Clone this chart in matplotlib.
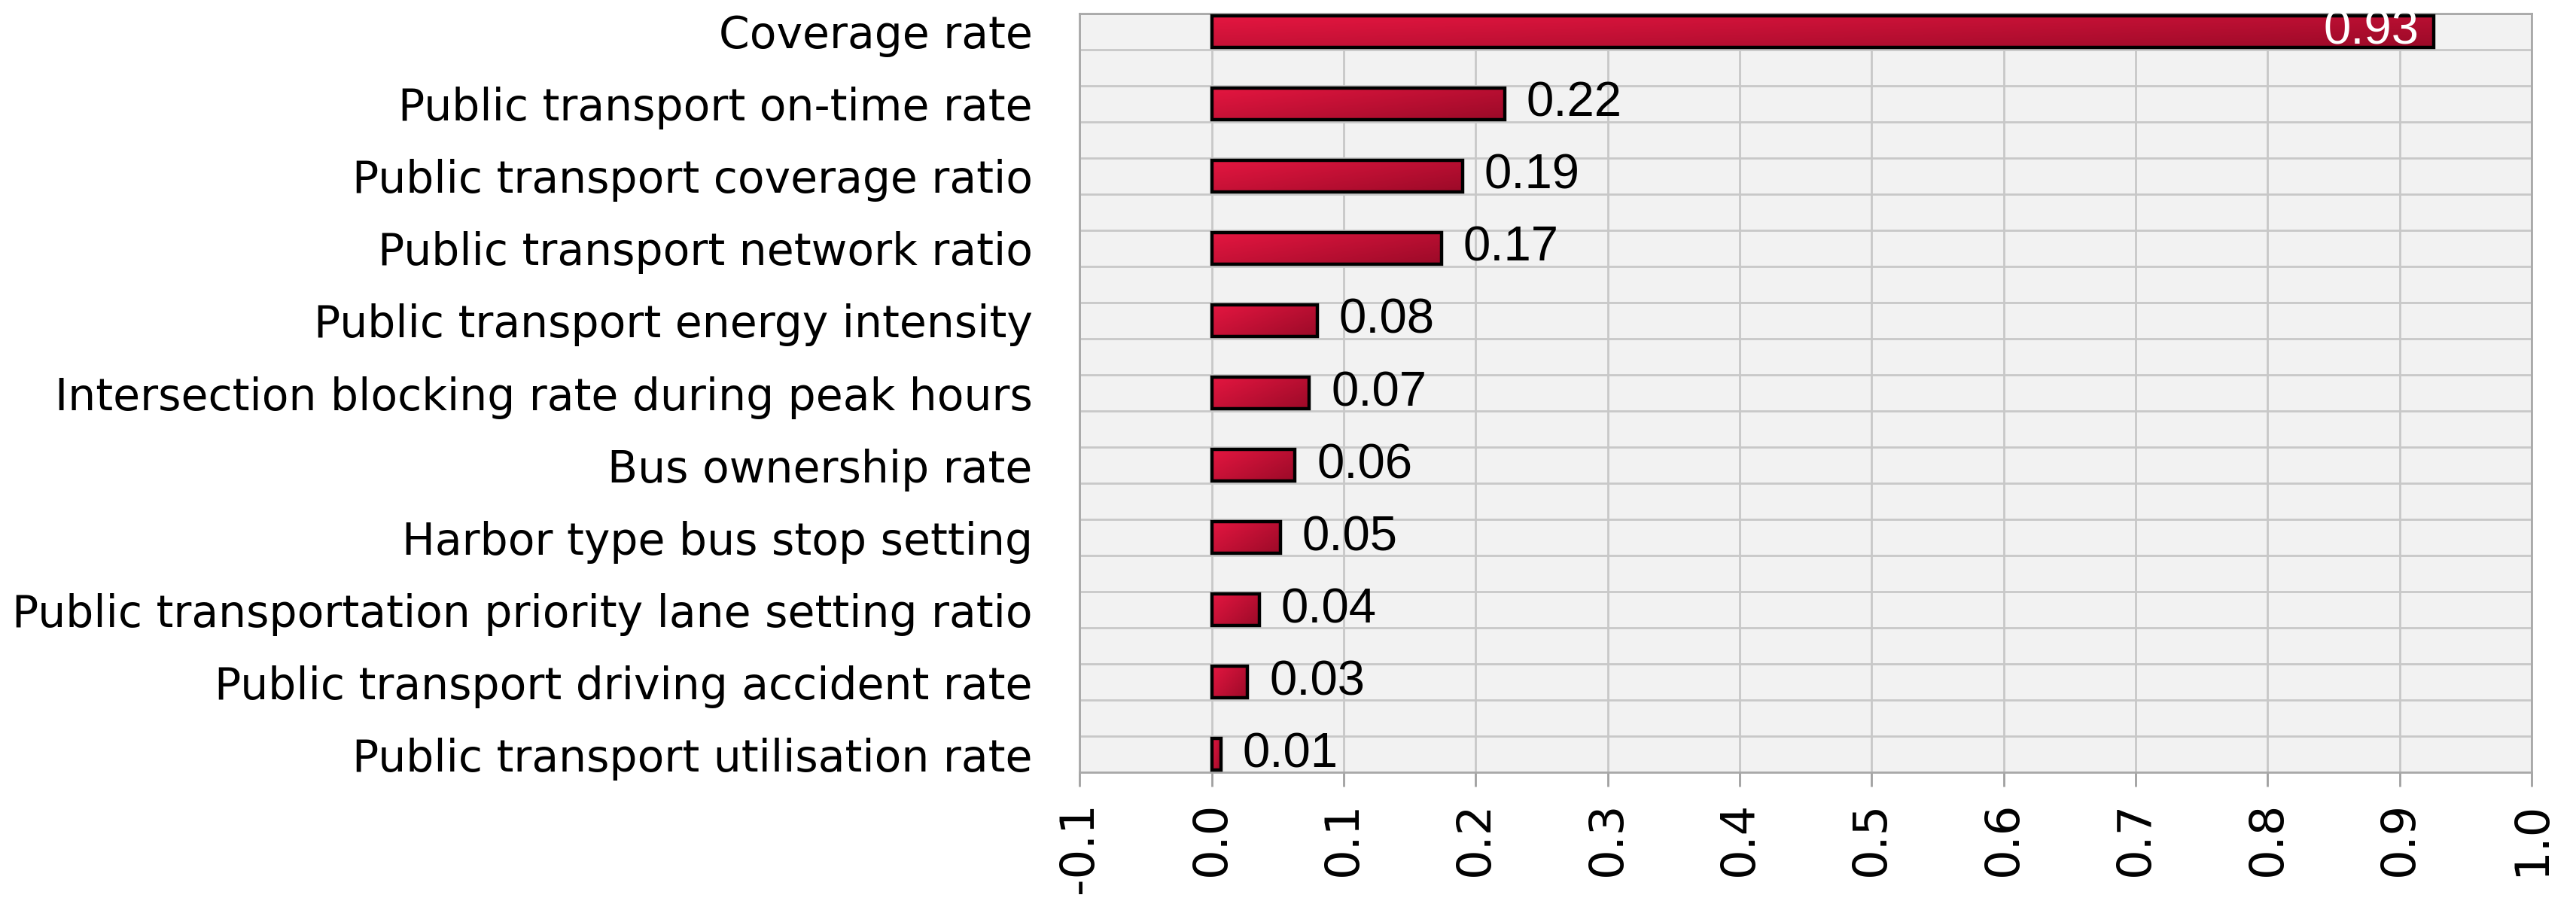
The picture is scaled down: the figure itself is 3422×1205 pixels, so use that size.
import numpy as np
import matplotlib
matplotlib.use("Agg")
from matplotlib import pyplot as plt

# indicator names, top to bottom as in the chart
categories = [
    "Coverage rate",
    "Public transport on-time rate",
    "Public transport coverage ratio",
    "Public transport network ratio",
    "Public transport energy intensity",
    "Intersection blocking rate during peak hours",
    "Bus ownership rate",
    "Harbor type bus stop setting",
    "Public transportation priority lane setting ratio",
    "Public transport driving accident rate",
    "Public transport utilisation rate",
]
weights = [0.926, 0.222, 0.190, 0.174, 0.080, 0.074, 0.063, 0.052, 0.036, 0.027, 0.007]
x_ticks = [-0.1, 0.0, 0.1, 0.2, 0.3, 0.4, 0.5, 0.6, 0.7, 0.8, 0.9, 1.0]

LIGHT = np.array([228, 22, 64]) / 255
DARK = np.array([155, 10, 40]) / 255
GRID = "#C8C8C8"

fig = plt.figure(figsize=(34.22, 12.05), dpi=100)
ax = fig.add_axes([0.4191, 0.1485, 0.5637, 0.8366])
ax.set_facecolor("#F2F2F2")

n = len(categories)
ypos = np.arange(n)[::-1]
bar_h = 0.43

bars = ax.barh(ypos, weights, height=bar_h, facecolor="none",
               edgecolor="black", linewidth=3.2, zorder=4)

# diagonal gradient fill, light at top-left, dark at bottom-right
gx, gy = np.meshgrid(np.linspace(0, 1, 200), np.linspace(0, 1, 40))
shade = 0.6 * gx + 0.4 * (1 - gy)
grad = LIGHT[None, None, :] * (1 - shade[..., None]) + DARK[None, None, :] * shade[..., None]
for rect, y, w in zip(bars, ypos, weights):
    im = ax.imshow(grad, extent=(0, w, y - bar_h / 2, y + bar_h / 2),
                   origin="lower", aspect="auto", zorder=3, interpolation="bilinear")
    im.set_clip_path(rect)

# value labels
for y, w in zip(ypos, weights):
    txt = f"{w:.2f}"
    if w > 0.5:
        ax.annotate(txt, (w, y), xytext=(-14, 0), textcoords="offset points",
                    ha="right", va="center", color="white", fontsize=47,
                    family=["Liberation Sans", "DejaVu Sans"], zorder=5)
    else:
        ax.annotate(txt, (w, y), xytext=(21, 0), textcoords="offset points",
                    ha="left", va="center", color="black", fontsize=47,
                    family=["Liberation Sans", "DejaVu Sans"], zorder=5)

ax.set_xticks(x_ticks)
ax.set_xticklabels([f"{t:.1f}" for t in x_ticks], rotation=90, fontsize=45)
ax.set_yticks(ypos)
ax.set_yticklabels(categories, fontsize=42)
ax.set_yticks(np.arange(-0.25, n - 0.5, 0.5), minor=True)

ax.set_xlim(-0.1, 1.0)
ax.set_ylim(-0.25, n - 0.75)

ax.tick_params(axis="x", length=14, width=2, color="#A0A0A0", pad=14)
ax.tick_params(axis="y", which="both", length=0, pad=45)

ax.grid(True, axis="x", color=GRID, linewidth=2, zorder=1)
ax.grid(True, axis="y", which="minor", color=GRID, linewidth=2, zorder=1)
ax.grid(False, axis="y", which="major")
ax.set_axisbelow(True)

for side in ["left", "right", "top", "bottom"]:
    ax.spines[side].set_color("#A8A8A8")
    ax.spines[side].set_linewidth(2)

fig.savefig("out.png", dpi=100)
